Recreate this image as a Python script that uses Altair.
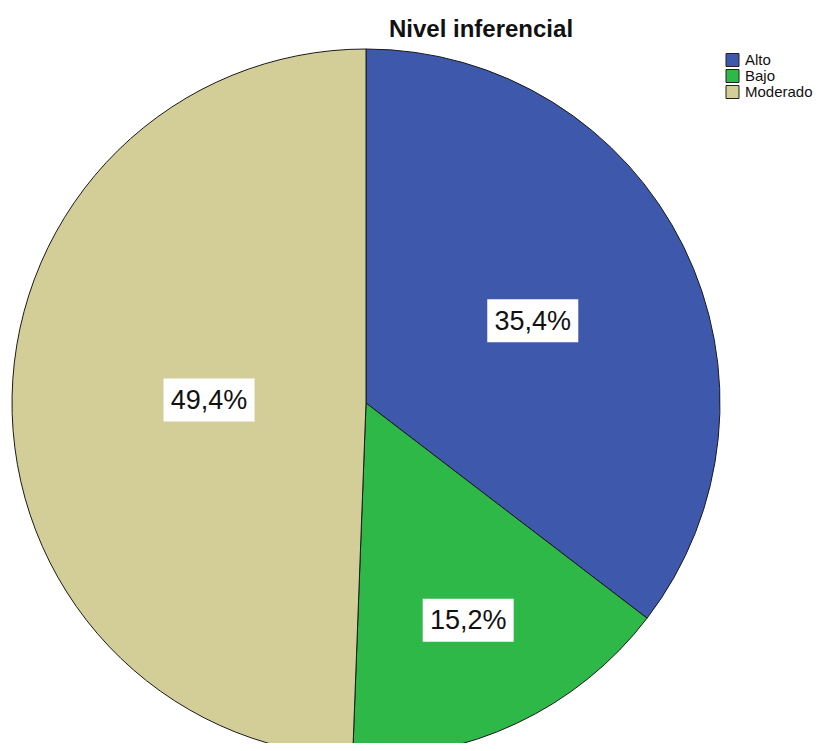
import altair as alt
import pandas as pd

# ---- data ----
categories = ["Alto", "Bajo", "Moderado"]
percentages = [35.4, 15.2, 49.4]
colors = ["#3E58AC", "#2EB848", "#D3CE97"]
title_text = "Nivel inferencial"

df = pd.DataFrame({"cat": categories, "value": percentages, "order": list(range(len(categories)))})

# ---- style / layout ----
W, H = 805, 735
CX, CY = 358, 395
R = 354
FONT = "Liberation Sans"
# radial distance of each label from the pie centre (styling)
r_expr = "datum.cat == 'Alto' ? 186 : (datum.cat == 'Bajo' ? 240 : 157)"

base = alt.Chart(df)

pie = base.mark_arc(outerRadius=R, stroke="#1a1a1a", strokeWidth=1).encode(
    theta=alt.Theta("value:Q", stack=True),
    order=alt.Order("order:Q"),
    color=alt.Color(
        "cat:N",
        scale=alt.Scale(domain=categories, range=colors),
        legend=alt.Legend(
            title=None,
            orient="none",
            legendX=717,
            legendY=45,
            symbolType="square",
            symbolSize=169,
            symbolStrokeColor="#222222",
            symbolStrokeWidth=1,
            symbolOpacity=1,
            labelFont=FONT,
            labelFontSize=15,
            labelColor="#111111",
            labelOffset=5,
            rowPadding=1,
            clipHeight=14,
            padding=0,
        ),
    ),
    x=alt.value(CX),
    y=alt.value(CY),
)

labeled = (
    base.transform_joinaggregate(total="sum(value)")
    .transform_window(cum="sum(value)", sort=[{"field": "order"}], frame=[None, 0])
    .transform_calculate(mid="(datum.cum - datum.value / 2) / datum.total * 2 * PI")
    .transform_calculate(r=r_expr)
    .transform_calculate(
        lx=f"{CX} + datum.r * sin(datum.mid)",
        ly=f"{CY} - datum.r * cos(datum.mid)",
        label="replace(format(datum.value, '.1f'), '.', ',') + '%'",
    )
)

box_shape = "M-1,-0.4725L1,-0.4725L1,0.4725L-1,0.4725Z"
boxes = labeled.mark_point(
    shape=box_shape, size=8281, filled=True, fill="white", opacity=1, strokeWidth=0
).encode(
    x=alt.X("lx:Q", scale=None, axis=None),
    y=alt.Y("ly:Q", scale=None, axis=None),
)

texts = labeled.mark_text(
    font=FONT, fontSize=27, align="center", baseline="middle", color="#111111", dy=1
).encode(
    x=alt.X("lx:Q", scale=None, axis=None),
    y=alt.Y("ly:Q", scale=None, axis=None),
    text="label:N",
)

title = alt.Chart(pd.DataFrame({"t": [title_text]})).mark_text(
    font=FONT, fontSize=24, fontWeight="bold", align="center", baseline="alphabetic", color="#111111"
).encode(
    x=alt.value(473),
    y=alt.value(29),
    text="t:N",
)

chart = (
    alt.layer(pie, boxes, texts, title)
    .properties(
        width=W,
        height=H,
        autosize=alt.AutoSizeParams(type="none"),
        padding=0,
        background="white",
    )
    .configure_view(strokeWidth=0, stroke="transparent")
)

chart.save("out.html", embed_options={"renderer": "svg", "actions": False})
